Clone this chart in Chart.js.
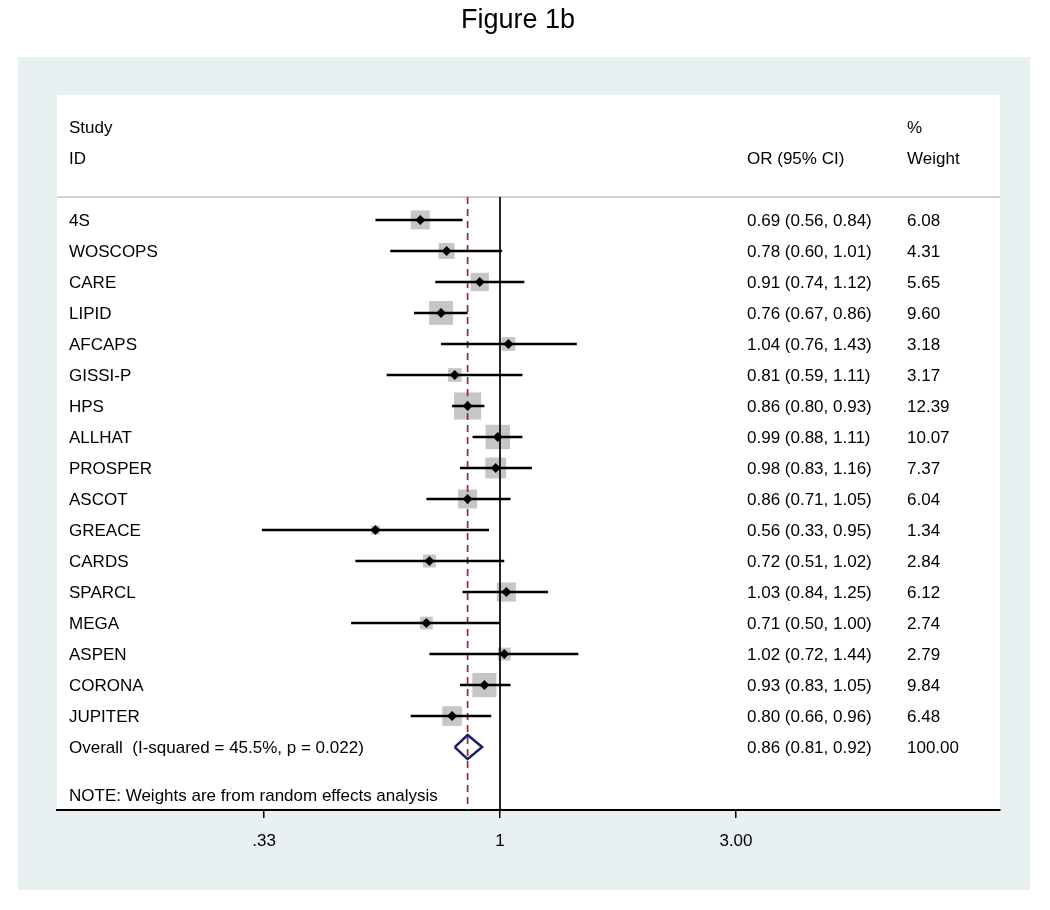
<!DOCTYPE html>
<html lang="en">
<head>
    <meta charset="UTF-8">
    <title>Figure 1b</title>
    <script src="https://cdn.jsdelivr.net/npm/chart.js@4.4.1/dist/chart.umd.min.js"></script>
    <style>
        body { margin: 0; background: #fff; }
        #wrap { width: 1050px; height: 910px; }
    </style>
</head>
<body>
<div id="wrap"><canvas id="forest"></canvas></div>
<script>
    // studies, odds ratios, confidence limits and weights
    const studies = ['4S', 'WOSCOPS', 'CARE', 'LIPID', 'AFCAPS', 'GISSI-P', 'HPS', 'ALLHAT', 'PROSPER',
        'ASCOT', 'GREACE', 'CARDS', 'SPARCL', 'MEGA', 'ASPEN', 'CORONA', 'JUPITER'];
    const oddsRatio = [0.69, 0.78, 0.91, 0.76, 1.04, 0.81, 0.86, 0.99, 0.98, 0.86, 0.56, 0.72, 1.03, 0.71, 1.02, 0.93, 0.80];
    const lower = [0.56, 0.60, 0.74, 0.67, 0.76, 0.59, 0.80, 0.88, 0.83, 0.71, 0.33, 0.51, 0.84, 0.50, 0.72, 0.83, 0.66];
    const upper = [0.84, 1.01, 1.12, 0.86, 1.43, 1.11, 0.93, 1.11, 1.16, 1.05, 0.95, 1.02, 1.25, 1.00, 1.44, 1.05, 0.96];
    const weights = [6.08, 4.31, 5.65, 9.60, 3.18, 3.17, 12.39, 10.07, 7.37, 6.04, 1.34, 2.84, 6.12, 2.74, 2.79, 9.84, 6.48];

    const overall = { label: 'Overall  (I-squared = 45.5%, p = 0.022)', or: 0.86, lo: 0.81, hi: 0.92, weight: '100.00' };
    const note = 'NOTE: Weights are from random effects analysis';

    const tickValues = [1 / 3, 1, 3];
    const tickLabels = ['.33', '1', '3.00'];

    const fmt = v => v.toFixed(2);
    const nRows = studies.length;         // overall row index = nRows
    const yMin = -4.03, yMax = 19.03;
    const headRow = -0.74;                 // separator under the header
    const FONT = '"Liberation Sans", Arial, sans-serif';

    const datasets = [];

    // confidence interval lines
    studies.forEach((s, i) => {
        datasets.push({
            type: 'line',
            data: [{ x: lower[i], y: i }, { x: upper[i], y: i }],
            borderColor: '#000',
            borderWidth: 2.5,
            pointRadius: 0,
            order: 1
        });
    });

    // weight boxes (area proportional to weight)
    datasets.push({
        type: 'scatter',
        data: studies.map((s, i) => ({ x: oddsRatio[i], y: i })),
        pointStyle: 'rect',
        pointRadius: weights.map(w => 7.7 * Math.sqrt(w) / Math.SQRT2),
        backgroundColor: '#c6c6c6',
        borderWidth: 0,
        order: 3
    });

    // point estimates
    datasets.push({
        type: 'scatter',
        data: studies.map((s, i) => ({ x: oddsRatio[i], y: i })),
        pointStyle: 'rectRot',
        pointRadius: 5,
        backgroundColor: '#000',
        borderWidth: 0,
        order: 0
    });

    // null line and overall effect line
    datasets.push({
        type: 'line',
        data: [{ x: 1, y: headRow }, { x: 1, y: yMax }],
        borderColor: '#000',
        borderWidth: 1.7,
        pointRadius: 0,
        order: 2
    });
    datasets.push({
        type: 'line',
        data: [{ x: overall.or, y: headRow }, { x: overall.or, y: yMax }],
        borderColor: '#a3262f',
        borderWidth: 1.7,
        borderDash: [7, 5],
        pointRadius: 0,
        order: 2
    });

    // pooled diamond
    const dh = 0.39;
    datasets.push({
        type: 'line',
        data: [
            { x: overall.lo, y: nRows },
            { x: overall.or, y: nRows - dh },
            { x: overall.hi, y: nRows },
            { x: overall.or, y: nRows + dh },
            { x: overall.lo, y: nRows }
        ],
        borderColor: '#1c1c6e',
        borderWidth: 2.5,
        pointRadius: 0,
        tension: 0,
        order: 0
    });

    // background panels, header rule and text columns
    const forestText = {
        id: 'forestText',
        beforeDraw(chart) {
            const ctx = chart.ctx, a = chart.chartArea;
            ctx.save();
            ctx.fillStyle = '#e8f0f2';
            ctx.fillRect(18, 57, 1012, 833);
            ctx.fillStyle = '#fff';
            ctx.fillRect(a.left, a.top, a.right - a.left, a.bottom - a.top);
            const yS = chart.scales.y;
            ctx.strokeStyle = '#d2d2d2';
            ctx.lineWidth = 2;
            ctx.beginPath();
            ctx.moveTo(a.left, yS.getPixelForValue(headRow));
            ctx.lineTo(a.right, yS.getPixelForValue(headRow));
            ctx.stroke();
            ctx.restore();
        },
        afterDraw(chart) {
            const ctx = chart.ctx, a = chart.chartArea;
            const yS = chart.scales.y;
            const row = r => yS.getPixelForValue(r) + 1.5;
            const xStudy = a.left + 12, xOR = a.left + 690, xW = a.left + 850;
            ctx.save();
            ctx.fillStyle = '#000';
            ctx.textBaseline = 'middle';
            ctx.font = '27px ' + FONT;
            ctx.textAlign = 'center';
            ctx.fillText('Figure 1b', 518, 21);
            ctx.textAlign = 'left';
            ctx.font = '17px ' + FONT;
            ctx.fillText('Study', xStudy, row(-3));
            ctx.fillText('ID', xStudy, row(-2));
            ctx.fillText('OR (95% CI)', xOR, row(-2));
            ctx.fillText('%', xW, row(-3));
            ctx.fillText('Weight', xW, row(-2));
            studies.forEach((s, i) => {
                const y = row(i);
                ctx.fillText(s, xStudy, y);
                ctx.fillText(fmt(oddsRatio[i]) + ' (' + fmt(lower[i]) + ', ' + fmt(upper[i]) + ')', xOR, y);
                ctx.fillText(fmt(weights[i]), xW, y);
            });
            const yo = row(nRows);
            ctx.fillText(overall.label, xStudy, yo);
            ctx.fillText(fmt(overall.or) + ' (' + fmt(overall.lo) + ', ' + fmt(overall.hi) + ')', xOR, yo);
            ctx.fillText(overall.weight, xW, yo);
            ctx.fillText(note, xStudy, row(nRows + 1.55));
            ctx.restore();
        }
    };

    new Chart(document.getElementById('forest'), {
        data: { datasets: datasets },
        options: {
            responsive: true,
            maintainAspectRatio: false,
            animation: false,
            layout: { padding: { left: 57, right: 50, top: 95, bottom: 0 } },
            plugins: { legend: { display: false }, tooltip: { enabled: false }, title: { display: false } },
            scales: {
                x: {
                    type: 'logarithmic',
                    min: Math.exp((57 - 500) / 214.8),
                    max: Math.exp((1000 - 500) / 214.8),
                    afterBuildTicks: scale => { scale.ticks = tickValues.map(v => ({ value: v })); },
                    afterFit: scale => { scale.height = 100; },
                    ticks: {
                        autoSkip: false,
                        maxRotation: 0,
                        color: '#000',
                        padding: 13,
                        font: { family: FONT, size: 17 },
                        callback: (v, i) => tickLabels[i]
                    },
                    grid: { drawOnChartArea: false, drawTicks: true, tickLength: 8, color: '#000', lineWidth: 1.5 },
                    border: { display: true, color: '#000', width: 2 }
                },
                y: {
                    type: 'linear',
                    display: false,
                    reverse: true,
                    min: yMin,
                    max: yMax
                }
            }
        },
        plugins: [forestText]
    });
</script>
</body>
</html>
